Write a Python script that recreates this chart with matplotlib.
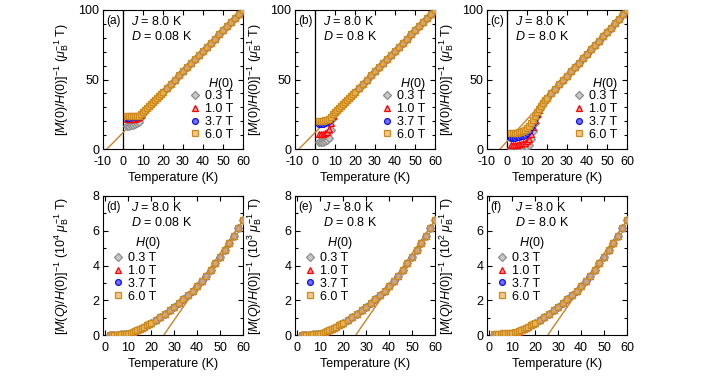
import matplotlib
matplotlib.use('Agg')
import matplotlib.pyplot as plt
from matplotlib.ticker import MultipleLocator

plt.rcParams['font.family'] = ['Liberation Sans', 'DejaVu Sans']
plt.rcParams['mathtext.fontset'] = 'custom'
plt.rcParams['mathtext.rm'] = 'Liberation Sans'
plt.rcParams['mathtext.it'] = 'Liberation Sans:italic'
plt.rcParams['axes.unicode_minus'] = False
plt.rcParams['font.size'] = 9

# temperature grids (K)
T_low = [2, 3, 4, 5, 6, 7, 8, 9, 10, 11, 12, 13, 14, 15, 16, 17, 18, 19]
T_high = [20, 22, 24, 26, 28, 30, 32, 34, 36, 38, 40, 42, 44, 46, 48, 50, 52, 54, 56, 58, 60]

fields = ['0.3 T', '1.0 T', '3.7 T', '6.0 T']

# ---- top row: [M(0)/H(0)]^-1 ----
# (a) D = 0.08 K
a_low = {
    '0.3 T': [16.8, 16.9, 17.1, 17.4, 17.8, 18.4, 19.6, 22.8, 26.0, 27.9, 29.4, 30.9, 32.4, 33.8, 35.3, 36.8, 38.2, 39.7],
    '1.0 T': [21.5, 21.5, 21.6, 21.7, 21.9, 22.2, 22.9, 24.6, 26.4, 27.9, 29.4, 30.9, 32.4, 33.8, 35.3, 36.8, 38.2, 39.7],
    '3.7 T': [22.6, 22.6, 22.7, 22.8, 23.0, 23.2, 23.7, 25.0, 26.5, 27.9, 29.4, 30.9, 32.4, 33.8, 35.3, 36.8, 38.2, 39.7],
    '6.0 T': [23.4, 23.4, 23.5, 23.5, 23.6, 23.8, 24.1, 25.3, 26.6, 27.9, 29.4, 30.9, 32.4, 33.8, 35.3, 36.8, 38.2, 39.7],
}
a_high = [41.2, 44.1, 47.1, 50.0, 52.9, 55.9, 58.8, 61.8, 64.7, 67.6, 70.6, 73.5, 76.5, 79.4, 82.4, 85.3, 88.2, 91.2, 94.1, 97.1, 100.0]

# (b) D = 0.8 K
b_low = {
    '0.3 T': [5.0, 4.9, 5.0, 5.4, 6.2, 7.8, 14.0, 22.0, 26.0, 27.9, 29.4, 30.9, 32.4, 33.8, 35.3, 36.8, 38.2, 39.7],
    '1.0 T': [10.5, 10.5, 10.8, 11.5, 12.5, 14.5, 18.5, 23.8, 26.4, 27.9, 29.4, 30.9, 32.4, 33.8, 35.3, 36.8, 38.2, 39.7],
    '3.7 T': [18.0, 18.0, 18.2, 18.6, 19.2, 20.0, 21.6, 24.6, 26.5, 27.9, 29.4, 30.9, 32.4, 33.8, 35.3, 36.8, 38.2, 39.7],
    '6.0 T': [20.2, 20.2, 20.4, 20.7, 21.2, 21.9, 23.0, 25.1, 26.6, 27.9, 29.4, 30.9, 32.4, 33.8, 35.3, 36.8, 38.2, 39.7],
}
b_high = a_high

# (c) D = 8.0 K
c_low = {
    '0.3 T': [0.5, 0.5, 0.6, 0.6, 0.7, 0.8, 0.9, 1.1, 1.5, 3.0, 7.0, 13.0, 19.0, 24.0, 28.0, 31.0, 33.3, 35.4],
    '1.0 T': [3.0, 3.0, 3.1, 3.2, 3.4, 3.6, 4.0, 4.6, 5.5, 7.5, 11.0, 16.0, 21.0, 25.0, 28.3, 31.0, 33.3, 35.4],
    '3.7 T': [8.0, 8.0, 8.2, 8.4, 8.7, 9.0, 9.5, 10.3, 11.3, 13.0, 15.5, 19.0, 22.5, 25.5, 28.5, 31.0, 33.3, 35.4],
    '6.0 T': [11.5, 11.5, 11.6, 11.8, 12.0, 12.5, 13.0, 14.0, 15.0, 16.5, 18.5, 21.0, 24.0, 26.5, 29.0, 31.2, 33.4, 35.4],
}
c_high = [37.0, 40.2, 43.3, 46.5, 49.6, 52.8, 55.9, 59.1, 62.2, 65.4, 68.5, 71.7, 74.8, 78.0, 81.1, 84.3, 87.4, 90.6, 93.7, 96.9, 100.0]

# Curie-Weiss lines (endpoints)
fit_ab_T = [-8, 60]
fit_ab_y = [0, 100]
fit_c_T = [-3.5, 60]
fit_c_y = [0, 100]

# ---- bottom row: [M(Q)/H(0)]^-1 ----
q_low = [0.0, 0.0, 0.0, 0.01, 0.02, 0.03, 0.04, 0.06, 0.08, 0.12, 0.17, 0.22, 0.28, 0.34, 0.41, 0.48, 0.55, 0.62]
q_high = [0.70, 0.86, 1.03, 1.22, 1.42, 1.62, 1.84, 2.07, 2.30, 2.55, 2.80, 3.10, 3.42, 3.76, 4.12, 4.50, 4.90, 5.30, 5.72, 6.15, 6.60]
d_low = {'0.3 T': q_low, '1.0 T': q_low, '3.7 T': q_low, '6.0 T': q_low}
e_low = d_low
f_low = {
    '0.3 T': [0.0, 0.0, 0.0, 0.0, 0.0, 0.01, 0.01, 0.02, 0.04, 0.08, 0.13, 0.19, 0.26, 0.33, 0.41, 0.48, 0.55, 0.62],
    '1.0 T': [0.01, 0.01, 0.01, 0.01, 0.01, 0.02, 0.02, 0.03, 0.05, 0.09, 0.14, 0.20, 0.27, 0.34, 0.41, 0.48, 0.55, 0.62],
    '3.7 T': [0.05, 0.05, 0.05, 0.05, 0.05, 0.06, 0.07, 0.08, 0.10, 0.13, 0.17, 0.22, 0.28, 0.34, 0.41, 0.48, 0.55, 0.62],
    '6.0 T': [0.08, 0.08, 0.08, 0.08, 0.09, 0.09, 0.10, 0.11, 0.13, 0.16, 0.20, 0.25, 0.30, 0.35, 0.42, 0.48, 0.55, 0.62],
}
fit_q_T = [25.5, 60]
fit_q_y = [0, 6.6]

# marker styles per field
styles = {
    '0.3 T': dict(marker='D', ms=3.6, mec='#8c8c8c', mfc='#c8c8c8'),
    '1.0 T': dict(marker='^', ms=4.6, mec='#ff0000', mfc='#ff9090'),
    '3.7 T': dict(marker='o', ms=4.2, mec='#1010e0', mfc='#7070ff'),
    '6.0 T': dict(marker='s', ms=4.4, mec='#cc8a1e', mfc=(0.93, 0.72, 0.35, 0.75)),
}
line_color = '#c88428'

panels = [
    ('(a)', '0.08 K', a_low, a_high, fit_ab_T, fit_ab_y, 'top', None),
    ('(b)', '0.8 K', b_low, b_high, fit_ab_T, fit_ab_y, 'top', None),
    ('(c)', '8.0 K', c_low, c_high, fit_c_T, fit_c_y, 'top', None),
    ('(d)', '0.08 K', d_low, q_high, fit_q_T, fit_q_y, 'bot', '4'),
    ('(e)', '0.8 K', e_low, q_high, fit_q_T, fit_q_y, 'bot', '3'),
    ('(f)', '8.0 K', f_low, q_high, fit_q_T, fit_q_y, 'bot', '2'),
]

fig = plt.figure(figsize=(7.02, 3.78), dpi=100)
W, H = 702.0, 378.0
lefts = [103, 295, 487]
pw = 140

for i, (tag, dval, low, high, fT, fy, row, expo) in enumerate(panels):
    x0 = lefts[i % 3]
    if row == 'top':
        ax = fig.add_axes([x0 / W, 1 - 149 / H, pw / W, 139 / H])
    else:
        ax = fig.add_axes([x0 / W, 1 - 335 / H, pw / W, 139 / H])

    ax.plot(fT, fy, '-', color=line_color, lw=1.0, zorder=2)
    for fld in fields:
        st = styles[fld]
        ax.plot(T_low + T_high, low[fld] + high, ls='none', mew=0.9, label=fld, zorder=3, **st)

    legkw = dict(frameon=False, handlelength=0.9, handletextpad=0.35,
                 labelspacing=0.06, borderpad=0.0, borderaxespad=0.0, fontsize=9)
    if row == 'top':
        ax.axvline(0, color='black', lw=0.9, zorder=1)
        ax.set_xlim(-10, 60)
        ax.set_ylim(0, 100)
        ax.xaxis.set_major_locator(MultipleLocator(10))
        ax.yaxis.set_major_locator(MultipleLocator(50))
        ax.yaxis.set_minor_locator(MultipleLocator(10))
        ax.set_ylabel(r'$[M(0)/H(0)]^{-1}$ ($\mu_{\rm B}^{-1}$ T)')
        ax.legend(loc='lower right', bbox_to_anchor=(0.93, 0.06), **legkw)
        ax.text(0.93, 0.47, r'$H$(0)', transform=ax.transAxes, ha='right', va='center')
    else:
        ax.set_xlim(-1, 60)
        ax.set_ylim(0, 8)
        ax.xaxis.set_major_locator(MultipleLocator(10))
        ax.yaxis.set_major_locator(MultipleLocator(2))
        ax.yaxis.set_minor_locator(MultipleLocator(1))
        ax.set_ylabel(r'$[M(Q)/H(0)]^{-1}$ (10$^{%s}$ $\mu_{\rm B}^{-1}$ T)' % expo)
        ax.legend(loc='upper left', bbox_to_anchor=(0.07, 0.595), **legkw)
        ax.text(0.23, 0.66, r'$H$(0)', transform=ax.transAxes, ha='left', va='center')

    ax.set_xlabel('Temperature (K)', labelpad=3)
    ax.yaxis.set_label_coords(-0.225, 0.5)
    ax.tick_params(which='both', direction='in', top=True, right=True)
    ax.tick_params(which='major', length=3.5, width=0.8)
    ax.tick_params(which='minor', length=2, width=0.8)
    ax.tick_params(axis='x', pad=5)
    ax.tick_params(axis='y', pad=2.5)
    for sp in ax.spines.values():
        sp.set_linewidth(0.8)

    ax.text(0.025, 0.92, tag, transform=ax.transAxes, fontsize=8.5, va='center', ha='left')
    ax.text(0.2, 0.915, r'$J$ = 8.0 K', transform=ax.transAxes, va='center', ha='left')
    ax.text(0.2, 0.81, r'$D$ = ' + dval, transform=ax.transAxes, va='center', ha='left')

fig.savefig('out.png', dpi=100)
